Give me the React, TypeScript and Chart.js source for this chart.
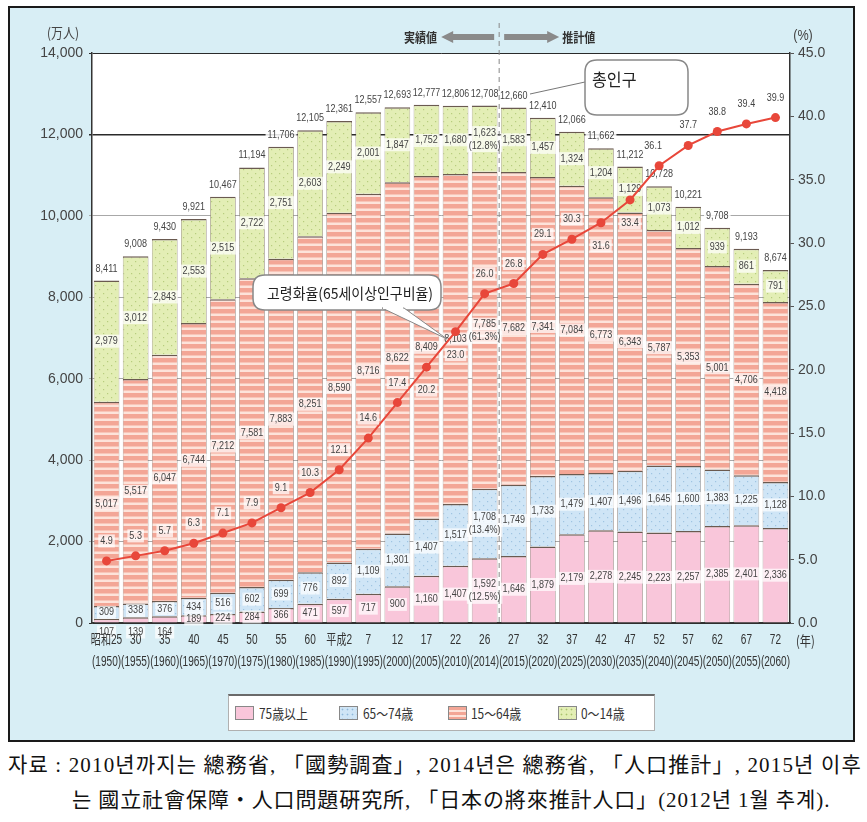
import React, { useEffect, useRef } from 'react';
import { Chart, registerables } from 'chart.js';
Chart.register(...registerables);

const eraLabels = ['昭和25', '30', '35', '40', '45', '50', '55', '60', '平成2', '7', '12', '17', '22', '26', '27', '32', '37', '42', '47', '52', '57', '62', '67', '72'];
const yearLabels = ['1950', '1955', '1960', '1965', '1970', '1975', '1980', '1985', '1990', '1995', '2000', '2005', '2010', '2014', '2015', '2020', '2025', '2030', '2035', '2040', '2045', '2050', '2055', '2060'];
const age75plus = [107, 139, 164, 189, 224, 284, 366, 471, 597, 717, 900, 1160, 1407, 1592, 1646, 1879, 2179, 2278, 2245, 2223, 2257, 2385, 2401, 2336];
const age65to74 = [309, 338, 376, 434, 516, 602, 699, 776, 892, 1109, 1301, 1407, 1517, 1708, 1749, 1733, 1479, 1407, 1496, 1645, 1600, 1383, 1225, 1128];
const age15to64 = [5017, 5517, 6047, 6744, 7212, 7581, 7883, 8251, 8590, 8716, 8622, 8409, 8103, 7785, 7682, 7341, 7084, 6773, 6343, 5787, 5353, 5001, 4706, 4418];
const age0to14 = [2979, 3012, 2843, 2553, 2515, 2722, 2751, 2603, 2249, 2001, 1847, 1752, 1680, 1623, 1583, 1457, 1324, 1204, 1129, 1073, 1012, 939, 861, 791];
const totals = [8411, 9008, 9430, 9921, 10467, 11194, 11706, 12105, 12361, 12557, 12693, 12777, 12806, 12708, 12660, 12410, 12066, 11662, 11212, 10728, 10221, 9708, 9193, 8674];
const agingRate = [4.9, 5.3, 5.7, 6.3, 7.1, 7.9, 9.1, 10.3, 12.1, 14.6, 17.4, 20.2, 23.0, 26.0, 26.8, 29.1, 30.3, 31.6, 33.4, 36.1, 37.7, 38.8, 39.4, 39.9];
// shares of 2014 (order: 75+, 65-74, 15-64, 0-14)
const shares2014 = [12.5, 13.4, 61.3, 12.8];
const seriesNames = ['75歳以上', '65～74歳', '15～64歳', '0～14歳'];

const SANS = '"Liberation Sans", "Noto Sans CJK JP", sans-serif';
const KR = '"Noto Sans CJK KR", sans-serif';
const JP = '"Noto Sans CJK JP", sans-serif';

function makePattern(kind: string): CanvasPattern | string {
  const c = document.createElement('canvas');
  const x = c.getContext('2d')!;
  if (kind === 'green' || kind === 'blue') {
    c.width = 8; c.height = 8;
    x.fillStyle = kind === 'green' ? '#e3eeb5' : '#cfe5f6';
    x.fillRect(0, 0, 8, 8);
    x.fillStyle = kind === 'green' ? '#b7cd7e' : '#9fc4e2';
    x.fillRect(1, 1, 1.2, 1.2);
    x.fillRect(5, 5, 1.2, 1.2);
  } else if (kind === 'stripe') {
    c.width = 4; c.height = 7;
    x.fillStyle = '#f3a696';
    x.fillRect(0, 0, 4, 7);
    x.fillStyle = '#fde3da';
    x.fillRect(0, 4.5, 4, 2.5);
  } else {
    return '#f9c6da';
  }
  return x.createPattern(c, 'repeat')!;
}

function condText(ctx: CanvasRenderingContext2D, text: string, x: number, y: number, o: any = {}) {
  const font = o.font || `11px ${SANS}`;
  const sx = o.sx ?? 0.82;
  const align = o.align || 'center';
  const h = o.h ?? 11;
  ctx.save();
  ctx.font = font;
  const w = ctx.measureText(text).width * sx;
  const left = align === 'center' ? x - w / 2 : align === 'right' ? x - w : x;
  if (o.bg) {
    ctx.fillStyle = o.bg;
    ctx.fillRect(left - 2, y - h / 2 - 1, w + 4, h + 2);
  }
  ctx.translate(left, y);
  ctx.scale(sx, 1);
  ctx.fillStyle = o.color || '#444';
  ctx.textAlign = 'left';
  ctx.textBaseline = 'middle';
  ctx.fillText(text, 0, 0);
  ctx.restore();
}

function roundRect(ctx: CanvasRenderingContext2D, x: number, y: number, w: number, h: number, r: number) {
  ctx.beginPath();
  ctx.moveTo(x + r, y);
  ctx.lineTo(x + w - r, y);
  ctx.quadraticCurveTo(x + w, y, x + w, y + r);
  ctx.lineTo(x + w, y + h - r);
  ctx.quadraticCurveTo(x + w, y + h, x + w - r, y + h);
  ctx.lineTo(x + r, y + h);
  ctx.quadraticCurveTo(x, y + h, x, y + h - r);
  ctx.lineTo(x, y + r);
  ctx.quadraticCurveTo(x, y, x + r, y);
  ctx.closePath();
}

const fmt = (v: number) => v.toLocaleString('en-US');

function drawBarLabels(chart: any) {
  const { ctx, chartArea: a } = chart;
  const bg = 'rgba(255,255,255,0.72)';
  for (let d = 0; d < 4; d++) {
    const meta = chart.getDatasetMeta(d);
    const data = chart.data.datasets[d].data as number[];
    meta.data.forEach((el: any, i: number) => {
      const v = data[i];
      const cx = el.x;
      let cy = (el.y + el.base) / 2;
      if (i === 13) {
        condText(ctx, fmt(v), cx, cy - 6, { bg });
        condText(ctx, `(${shares2014[d].toFixed(1)}%)`, cx, cy + 7, { bg });
        return;
      }
      if (d === 0 && v < 170) cy = a.bottom + 9;
      condText(ctx, fmt(v), cx, cy, { bg });
    });
  }
  const topMeta = chart.getDatasetMeta(3);
  topMeta.data.forEach((el: any, i: number) => {
    condText(ctx, fmt(totals[i]), el.x, el.y - 12, { bg: 'rgba(255,255,255,0.85)' });
  });
}

const decoPlugin = {
  id: 'deco',
  beforeDraw(chart: any) {
    const { ctx, chartArea: a } = chart;
    ctx.save();
    ctx.fillStyle = '#ffffff';
    ctx.fillRect(a.left, a.top, a.right - a.left, a.bottom - a.top);
    ctx.restore();
  },
  beforeDatasetDraw(chart: any, args: any) {
    if (args.index === 4) drawBarLabels(chart);
  },
  afterDatasetsDraw(chart: any) {
    const { ctx } = chart;
    const bg = 'rgba(255,255,255,0.72)';
    const lineMeta = chart.getDatasetMeta(4);
    const below = [11, 12, 17, 18];
    lineMeta.data.forEach((el: any, i: number) => {
      const dy = below.includes(i) ? 23 : -20;
      const dx = i === 19 ? -6 : 0;
      condText(ctx, agingRate[i].toFixed(1), el.x + dx, el.y + dy, { bg });
    });
  },
  afterDraw(chart: any) {
    const { ctx, chartArea: a } = chart;
    const xs = chart.scales.x;
    eraLabels.forEach((lab, i) => {
      const px = xs.getPixelForValue(i);
      condText(ctx, lab, px, 632, { font: `14px ${SANS}`, sx: 0.72, color: '#333' });
      condText(ctx, `(${yearLabels[i]})`, px, 654, { font: `14px ${SANS}`, sx: 0.72, color: '#333' });
    });
    condText(ctx, '(年)', 786, 633, { font: `14px ${JP}`, sx: 0.8, align: 'left', color: '#333' });
    condText(ctx, '(万人)', 53, 25, { font: `14px ${JP}`, sx: 0.85, color: '#444' });
    condText(ctx, '(%)', 793, 28, { font: `14px ${SANS}`, sx: 0.9, color: '#444' });

    const mid = (xs.getPixelForValue(13) + xs.getPixelForValue(14)) / 2;
    ctx.save();
    ctx.strokeStyle = '#888';
    ctx.lineWidth = 1;
    ctx.setLineDash([5, 4]);
    ctx.beginPath();
    ctx.moveTo(mid, 15);
    ctx.lineTo(mid, a.bottom);
    ctx.stroke();
    ctx.restore();

    const ay = 29;
    ctx.save();
    ctx.fillStyle = '#8a8a8a';
    ctx.beginPath();
    ctx.moveTo(mid - 5, ay - 3);
    ctx.lineTo(mid - 46, ay - 3);
    ctx.lineTo(mid - 46, ay - 6);
    ctx.lineTo(mid - 58, ay);
    ctx.lineTo(mid - 46, ay + 6);
    ctx.lineTo(mid - 46, ay + 3);
    ctx.lineTo(mid - 5, ay + 3);
    ctx.closePath();
    ctx.fill();
    ctx.beginPath();
    ctx.moveTo(mid + 5, ay - 3);
    ctx.lineTo(mid + 48, ay - 3);
    ctx.lineTo(mid + 48, ay - 6);
    ctx.lineTo(mid + 60, ay);
    ctx.lineTo(mid + 48, ay + 6);
    ctx.lineTo(mid + 48, ay + 3);
    ctx.lineTo(mid + 5, ay + 3);
    ctx.closePath();
    ctx.fill();
    ctx.restore();
    condText(ctx, '実績値', mid - 62, ay, { font: `bold 13px ${JP}`, sx: 0.85, align: 'right', color: '#333' });
    condText(ctx, '推計値', mid + 63, ay, { font: `bold 13px ${JP}`, sx: 0.85, align: 'left', color: '#333' });

    ctx.save();
    ctx.strokeStyle = '#777';
    ctx.lineWidth = 1;
    ctx.beginPath();
    ctx.moveTo(575, 74);
    ctx.lineTo(520, 86);
    ctx.stroke();
    roundRect(ctx, 575, 52, 103, 55, 12);
    ctx.fillStyle = '#fff';
    ctx.fill();
    ctx.lineWidth = 1.5;
    ctx.strokeStyle = '#888';
    ctx.stroke();
    ctx.restore();
    condText(ctx, '총인구', 582, 72, { font: `17px ${KR}`, sx: 0.95, align: 'left', color: '#222' });

    ctx.save();
    roundRect(ctx, 243, 267, 188, 35, 12);
    ctx.fillStyle = '#fff';
    ctx.fill();
    ctx.lineWidth = 1.5;
    ctx.strokeStyle = '#888';
    ctx.stroke();
    ctx.beginPath();
    ctx.moveTo(372, 300);
    ctx.lineTo(437, 331);
    ctx.lineTo(394, 300);
    ctx.closePath();
    ctx.fillStyle = '#fff';
    ctx.fill();
    ctx.lineWidth = 1;
    ctx.stroke();
    ctx.fillRect(373, 298, 20, 3);
    ctx.restore();
    ctx.save();
    ctx.font = `15px ${KR}`;
    const t = '고령화율(65세이상인구비율)';
    const w = ctx.measureText(t).width;
    ctx.restore();
    condText(ctx, t, 257, 285, { font: `15px ${KR}`, sx: Math.min(1, 166 / w), align: 'left', color: '#222' });
  },
};

export default function App() {
  const ref = useRef<HTMLCanvasElement>(null);
  useEffect(() => {
    const canvas = ref.current!;
    const labels = eraLabels.map((e, i) => `${e} (${yearLabels[i]})`);
    const barCommon = {
      type: 'bar' as const,
      stack: 'pop',
      yAxisID: 'y',
      order: 1,
      borderColor: '#6a5a50',
      borderWidth: { top: 1.5, left: 0.6, right: 0.6, bottom: 0 },
      borderSkipped: false as const,
      barPercentage: 0.88,
      categoryPercentage: 1,
    };
    const chart = new Chart(canvas, {
      type: 'bar',
      data: {
        labels,
        datasets: [
          { ...barCommon, label: seriesNames[0], data: age75plus, backgroundColor: makePattern('pink') as any },
          { ...barCommon, label: seriesNames[1], data: age65to74, backgroundColor: makePattern('blue') as any },
          { ...barCommon, label: seriesNames[2], data: age15to64, backgroundColor: makePattern('stripe') as any },
          { ...barCommon, label: seriesNames[3], data: age0to14, backgroundColor: makePattern('green') as any },
          {
            type: 'line' as const,
            label: '고령화율',
            data: agingRate,
            yAxisID: 'y1',
            order: 0,
            borderColor: '#e8473a',
            backgroundColor: '#e8473a',
            borderWidth: 2,
            pointRadius: 4.5,
            pointBackgroundColor: '#e8473a',
            pointBorderWidth: 0,
            tension: 0,
          } as any,
        ],
      },
      options: {
        animation: false,
        responsive: false,
        maintainAspectRatio: false,
        layout: { padding: { top: 45, left: 0, right: 0, bottom: 0 } },
        plugins: { legend: { display: false }, tooltip: { enabled: false } },
        scales: {
          x: {
            stacked: true,
            grid: { display: false },
            border: { display: true, color: '#333', width: 1.5 },
            ticks: { display: false },
            afterFit: (s: any) => { s.height = 117; },
          },
          y: {
            stacked: true,
            position: 'left',
            min: 0,
            max: 14000,
            ticks: {
              stepSize: 2000,
              callback: (v: any) => fmt(Number(v)),
              font: { size: 14, family: SANS },
              color: '#444',
              padding: 6,
            },
            grid: {
              color: (c: any) => (c.tick && (c.tick.value === 12000 || c.tick.value === 14000 || c.tick.value === 0) ? '#2a2a2a' : '#a8a8a8'),
              lineWidth: (c: any) => (c.tick && c.tick.value === 12000 ? 1.6 : 1),
              tickLength: 3,
            },
            border: { color: '#333', width: 1.5 },
            afterFit: (s: any) => { s.width = 82; },
          },
          y1: {
            position: 'right',
            min: 0,
            max: 45,
            ticks: {
              stepSize: 5,
              callback: (v: any) => Number(v).toFixed(1),
              font: { size: 14, family: SANS },
              color: '#444',
              padding: 4,
            },
            grid: { drawOnChartArea: false, tickLength: 4, color: '#555' },
            border: { color: '#333', width: 1.5 },
            afterFit: (s: any) => { s.width = 63; },
          },
        },
      },
      plugins: [decoPlugin],
    });
    return () => chart.destroy();
  }, []);

  const dotBg = (bg: string, dot: string) => `radial-gradient(circle, ${dot} 0.8px, transparent 1.1px) 0 0/5px 5px, ${bg}`;
  const swatches = [
    '#f9c6da',
    dotBg('#cfe5f6', '#8fb8da'),
    'repeating-linear-gradient(to bottom, #f3a696 0px, #f3a696 3px, #fde3da 3px, #fde3da 5px)',
    dotBg('#e3eeb5', '#a9c26c'),
  ];
  const swLeft = [6, 110, 219, 329];
  const txLeft = [30, 134, 242, 352];
  const srcFont = '"Liberation Serif", "Noto Sans CJK KR", serif';

  return (
    <div style={{ position: 'absolute', left: 0, top: 0, width: 867, height: 822 }}>
      <div
        style={{
          position: 'absolute', left: 8, top: 6, width: 847, height: 736, boxSizing: 'border-box',
          border: '2px solid #1a1a1a', background: '#d8eef5',
        }}
      >
        <canvas ref={ref} width={843} height={732} style={{ position: 'absolute', left: 0, top: 0, width: 843, height: 732 }} />
        <div
          style={{
            position: 'absolute', left: 218, top: 686, width: 427, height: 37, boxSizing: 'border-box',
            background: '#fff', border: '1px solid #b0b0b0', borderTop: '2px solid #6a6a6a',
          }}
        >
          {seriesNames.map((n, i) => (
            <React.Fragment key={n}>
              <div style={{ position: 'absolute', left: swLeft[i], top: 10, width: 19, height: 14, boxSizing: 'border-box', border: '1px solid #888', background: swatches[i] }} />
              <div style={{ position: 'absolute', left: txLeft[i], top: 7, fontFamily: JP, fontSize: 14, lineHeight: '20px', color: '#333', whiteSpace: 'nowrap', transform: 'scaleX(0.85)', transformOrigin: 'left center' }}>{n}</div>
            </React.Fragment>
          ))}
        </div>
      </div>
      <div style={{ position: 'absolute', left: 8, top: 752, fontFamily: srcFont, fontSize: 21, lineHeight: '26px', color: '#111', whiteSpace: 'nowrap', letterSpacing: '1.15px' }}>
        자료 : 2010년까지는 總務省, 「國勢調査」, 2014년은 總務省, 「人口推計」, 2015년 이후
      </div>
      <div style={{ position: 'absolute', left: 72, top: 787, fontFamily: srcFont, fontSize: 21, lineHeight: '26px', color: '#111', whiteSpace: 'nowrap', letterSpacing: '0.9px' }}>
        는 國立社會保障・人口問題硏究所, 「日本の將來推計人口」(2012년 1월 추계).
      </div>
    </div>
  );
}
